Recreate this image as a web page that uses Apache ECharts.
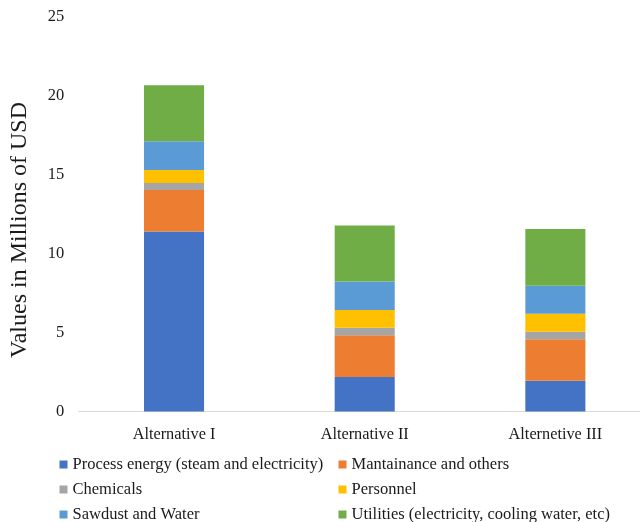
<!DOCTYPE html>
<html>
<head>
<meta charset="utf-8">
<script src="https://cdn.jsdelivr.net/npm/echarts@6/dist/echarts.min.js"></script>
<style>
  html, body { margin: 0; padding: 0; background: #fff; }
  #chart { width: 640px; height: 522px; }
</style>
</head>
<body>
<div id="chart"></div>
<script>
// Operating cost breakdown per process alternative (millions of USD)
const categories = ['Alternative I', 'Alternative II', 'Alternetive III'];

const processEnergy = [11.4, 2.18, 1.95];
const maintenance   = [2.62, 2.64, 2.62];
const chemicals     = [0.44, 0.48, 0.48];
const personnel     = [0.82, 1.12, 1.14];
const sawdustWater  = [1.82, 1.80, 1.77];
const utilities     = [3.55, 3.56, 3.59];

const yTicks = { min: 0, max: 25, interval: 5 };
const yTitle = 'Values in Millions of USD';

const seriesDefs = [
  { name: 'Process energy (steam and electricity)', data: processEnergy, color: '#4472C4' },
  { name: 'Mantainance and others', data: maintenance, color: '#ED7D31' },
  { name: 'Chemicals', data: chemicals, color: '#A5A5A5' },
  { name: 'Personnel', data: personnel, color: '#FFC000' },
  { name: 'Sawdust and Water', data: sawdustWater, color: '#5B9BD5' },
  { name: 'Utilities (electricity, cooling water, etc)', data: utilities, color: '#70AD47' }
];

const serif = '"Liberation Serif", "Times New Roman", serif';
const legendText = { fontFamily: serif, fontSize: 16.5, color: '#1a1a1a', lineHeight: 17 };

const legendCommon = {
  orient: 'vertical',
  top: 456,
  height: 80,
  padding: 0,
  icon: 'rect',
  itemWidth: 8,
  itemHeight: 8,
  itemGap: 8,
  selectedMode: false,
  textStyle: legendText
};

const chart = echarts.init(document.getElementById('chart'), null, { renderer: 'canvas' });

chart.setOption({
  animation: false,
  backgroundColor: '#fff',
  // the category axis runs past the right edge of the canvas
  grid: {
    left: 78.7, width: 572, top: 16.5, bottom: 110.5,
    containLabel: false, outerBoundsMode: 'none'
  },
  legend: [
    Object.assign({ left: 59.5, data: [seriesDefs[0].name, seriesDefs[2].name, seriesDefs[4].name] }, legendCommon),
    Object.assign({ left: 338.5, data: [seriesDefs[1].name, seriesDefs[3].name, seriesDefs[5].name] }, legendCommon)
  ],
  xAxis: {
    type: 'category',
    data: categories,
    axisLine: { lineStyle: { color: '#d9d9d9', width: 1 } },
    axisTick: { show: false },
    axisLabel: { fontFamily: serif, fontSize: 16.3, color: '#1a1a1a', margin: 15 }
  },
  yAxis: {
    type: 'value',
    min: yTicks.min,
    max: yTicks.max,
    interval: yTicks.interval,
    axisLine: { show: false },
    axisTick: { show: false },
    splitLine: { show: false },
    axisLabel: { fontFamily: serif, fontSize: 16.5, color: '#1a1a1a', margin: 14.5 }
  },
  graphic: [{
    type: 'text',
    x: 20,
    y: 230,
    rotation: Math.PI / 2,
    style: {
      text: yTitle,
      fontFamily: serif,
      fontSize: 24,
      fill: '#1a1a1a',
      align: 'center',
      verticalAlign: 'middle'
    }
  }],
  series: seriesDefs.map(s => ({
    name: s.name,
    type: 'bar',
    stack: 'total',
    barWidth: '31.5%',
    data: s.data,
    itemStyle: { color: s.color }
  }))
});
</script>
</body>
</html>
